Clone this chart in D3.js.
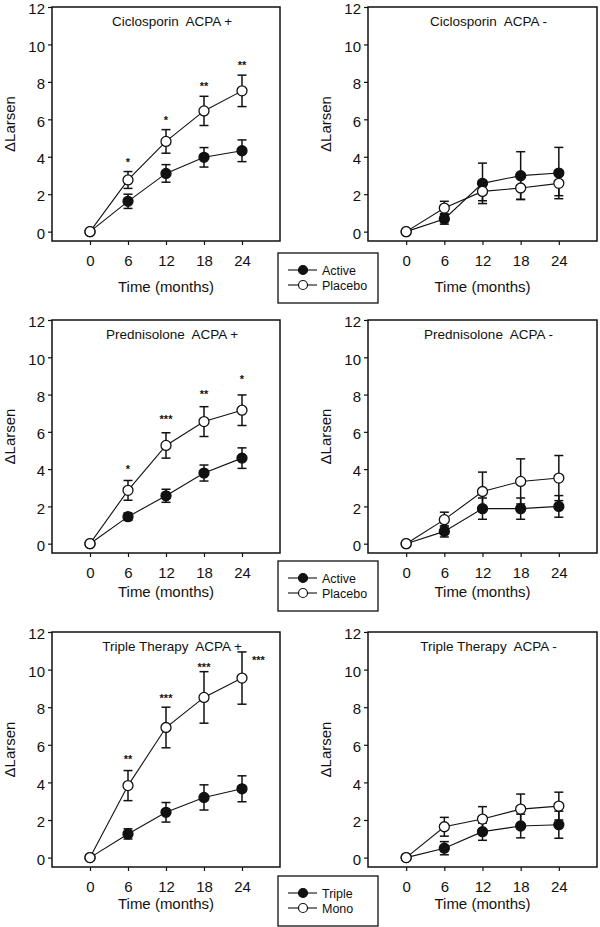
<!DOCTYPE html>
<html>
<head>
<meta charset="utf-8">
<script src="https://cdn.jsdelivr.net/npm/d3@7"></script>
<style>
  body { margin: 0; background: #fff; }
  svg { display: block; font-family: "Liberation Sans", Arial, sans-serif; }
  text { fill: #111; }
</style>
</head>
<body>
<svg id="chart" width="600" height="927"></svg>
<script>
// ---- data ----
var months = [0, 6, 12, 18, 24];
var xTicks = [0, 6, 12, 18, 24];
var yTicks = [0, 2, 4, 6, 8, 10, 12];

var cicloPosActive = [0, 1.62, 3.11, 3.97, 4.32];
var cicloPosActiveErr = [0, 0.38, 0.47, 0.52, 0.58];
var cicloPosPlacebo = [0, 2.76, 4.82, 6.45, 7.52];
var cicloPosPlaceboErr = [0, 0.45, 0.63, 0.78, 0.84];
var cicloPosStars = [[6, 3.84, "*"], [12, 6.08, "*"], [18, 7.89, "**"], [24, 9.01, "**"]];

var cicloNegActive = [0, 0.68, 2.58, 2.99, 3.13];
var cicloNegActiveErr = [0, 0.28, 1.08, 1.28, 1.37];
var cicloNegPlacebo = [0, 1.26, 2.15, 2.33, 2.58];
var cicloNegPlaceboErr = [0, 0.36, 0.5, 0.6, 0.66];

var predPosActive = [0, 1.45, 2.57, 3.79, 4.59];
var predPosActiveErr = [0, 0.2, 0.35, 0.43, 0.55];
var predPosPlacebo = [0, 2.86, 5.27, 6.55, 7.16];
var predPosPlaceboErr = [0, 0.53, 0.68, 0.8, 0.82];
var predPosStars = [[6, 4.11, "*"], [12, 6.82, "***"], [18, 8.13, "**"], [24, 8.96, "*"]];

var predNegActive = [0, 0.66, 1.88, 1.88, 2.0];
var predNegActiveErr = [0, 0.3, 0.57, 0.57, 0.58];
var predNegPlacebo = [0, 1.29, 2.8, 3.34, 3.52];
var predNegPlaceboErr = [0, 0.4, 1.04, 1.21, 1.21];

var tripPosTriple = [0, 1.26, 2.41, 3.2, 3.66];
var tripPosTripleErr = [0, 0.27, 0.52, 0.67, 0.69];
var tripPosMono = [0, 3.83, 6.92, 8.52, 9.55];
var tripPosMonoErr = [0, 0.8, 1.08, 1.37, 1.39];
var tripPosStars = [[6, 5.33, "**"], [12, 8.57, "***"], [18, 10.26, "***"], [26.6, 10.62, "***"]];

var tripNegTriple = [0, 0.5, 1.38, 1.68, 1.75];
var tripNegTripleErr = [0, 0.35, 0.46, 0.63, 0.72];
var tripNegMono = [0, 1.64, 2.05, 2.58, 2.74];
var tripNegMonoErr = [0, 0.5, 0.66, 0.8, 0.74];

var legendActive = ["Active", "Placebo"];
var legendTriple = ["Triple", "Mono"];

// ---- layout ----
var cols = [[52, 280], [368, 597]];
var rows = [
  {top: 7, bottom: 241, tick: 260, title: 287, legend: 253},
  {top: 320, bottom: 553, tick: 573, title: 592, legend: 561},
  {top: 632, bottom: 867, tick: 887, title: 904, legend: 876}
];

var panels = [
  {row: 0, col: 0, name: "Ciclosporin  ACPA +", filled: [cicloPosActive, cicloPosActiveErr], open: [cicloPosPlacebo, cicloPosPlaceboErr], stars: cicloPosStars},
  {row: 0, col: 1, name: "Ciclosporin  ACPA -", filled: [cicloNegActive, cicloNegActiveErr], open: [cicloNegPlacebo, cicloNegPlaceboErr], stars: []},
  {row: 1, col: 0, name: "Prednisolone  ACPA +", filled: [predPosActive, predPosActiveErr], open: [predPosPlacebo, predPosPlaceboErr], stars: predPosStars},
  {row: 1, col: 1, name: "Prednisolone  ACPA -", filled: [predNegActive, predNegActiveErr], open: [predNegPlacebo, predNegPlaceboErr], stars: []},
  {row: 2, col: 0, name: "Triple Therapy  ACPA +", filled: [tripPosTriple, tripPosTripleErr], open: [tripPosMono, tripPosMonoErr], stars: tripPosStars},
  {row: 2, col: 1, name: "Triple Therapy  ACPA -", filled: [tripNegTriple, tripNegTripleErr], open: [tripNegMono, tripNegMonoErr], stars: []}
];

var svg = d3.select("#chart");

panels.forEach(function(p) {
  var r = rows[p.row], c = cols[p.col];
  var x = d3.scaleLinear().domain([-6, 30]).range([c[0], c[1]]);
  var y = d3.scaleLinear().domain([-0.5, 12]).range([r.bottom, r.top]);
  var g = svg.append("g");

  // axes
  var xa = g.append("g")
    .attr("transform", "translate(0," + r.bottom + ")")
    .call(d3.axisBottom(x).tickValues(xTicks).tickSize(4).tickSizeOuter(0).tickPadding(10));
  var ya = g.append("g")
    .attr("transform", "translate(" + c[0] + ",0)")
    .call(d3.axisLeft(y).tickValues(yTicks).tickSize(4).tickSizeOuter(0).tickPadding(3));
  [xa, ya].forEach(function(a) {
    a.select(".domain").remove();
    a.selectAll("line").attr("stroke", "#111").attr("stroke-width", 1.2);
    a.selectAll("text").style("font-size", "15px").attr("fill", "#111")
      .style("font-family", "'Liberation Sans', Arial, sans-serif");
  });
  ya.selectAll("text").attr("dy", "0.45em");

  g.append("rect")
    .attr("x", c[0]).attr("y", r.top)
    .attr("width", c[1] - c[0]).attr("height", r.bottom - r.top)
    .attr("fill", "none").attr("stroke", "#111").attr("stroke-width", 1.5);

  g.append("text")
    .attr("x", (c[0] + c[1]) / 2 + 6).attr("y", r.top + 19)
    .attr("text-anchor", "middle")
    .style("font-size", "13.5px").style("white-space", "pre")
    .text(p.name);

  g.append("text")
    .attr("x", (c[0] + c[1]) / 2).attr("y", r.title + 5)
    .attr("text-anchor", "middle").style("font-size", "15px")
    .text("Time (months)");

  g.append("text")
    .attr("transform", "translate(" + (c[0] - 37) + "," + ((r.top + r.bottom) / 2) + ") rotate(-90)")
    .attr("text-anchor", "middle").style("font-size", "15px")
    .text("\u0394Larsen");

  var line = d3.line().x(function(d, i) { return x(months[i]); }).y(function(d) { return y(d); });

  [p.filled, p.open].forEach(function(s) {
    g.append("path").datum(s[0]).attr("d", line)
      .attr("fill", "none").attr("stroke", "#111").attr("stroke-width", 1.1);
  });

  [p.filled, p.open].forEach(function(s, k) {
    var pts = s[0].map(function(v, i) { return {m: months[i], v: v, e: s[1][i]}; });
    var eb = g.append("g").selectAll("g").data(pts.filter(function(d) { return d.e > 0; }))
      .enter().append("g").attr("stroke", "#111").attr("stroke-width", 1.5);
    eb.append("line")
      .attr("x1", function(d) { return x(d.m); }).attr("x2", function(d) { return x(d.m); })
      .attr("y1", function(d) { return y(d.v - d.e); }).attr("y2", function(d) { return y(d.v + d.e); });
    eb.append("line")
      .attr("x1", function(d) { return x(d.m) - 4.5; }).attr("x2", function(d) { return x(d.m) + 4.5; })
      .attr("y1", function(d) { return y(d.v + d.e); }).attr("y2", function(d) { return y(d.v + d.e); });
    eb.append("line")
      .attr("x1", function(d) { return x(d.m) - 4.5; }).attr("x2", function(d) { return x(d.m) + 4.5; })
      .attr("y1", function(d) { return y(d.v - d.e); }).attr("y2", function(d) { return y(d.v - d.e); });

    g.append("g").selectAll("circle").data(pts).enter().append("circle")
      .attr("cx", function(d) { return x(d.m); })
      .attr("cy", function(d) { return y(d.v); })
      .attr("r", 5)
      .attr("fill", k === 0 ? "#111" : "#fff")
      .attr("stroke", "#111").attr("stroke-width", 1.3);
  });

  g.append("g").selectAll("text").data(p.stars).enter().append("text")
    .attr("x", function(d) { return x(d[0]); })
    .attr("y", function(d) { return y(d[1]) + 6; })
    .attr("text-anchor", "middle").style("font-size", "11px").style("font-weight", "bold")
    .text(function(d) { return d[2]; });
});

// legends
rows.forEach(function(r, i) {
  var labels = i === 2 ? legendTriple : legendActive;
  var lg = svg.append("g").attr("transform", "translate(278," + r.legend + ")");
  lg.append("rect").attr("width", 100).attr("height", 50)
    .attr("fill", "#fff").attr("stroke", "#111").attr("stroke-width", 1.3);
  labels.forEach(function(l, k) {
    var yy = 17 + k * 15;
    lg.append("line").attr("x1", 10).attr("x2", 39).attr("y1", yy).attr("y2", yy)
      .attr("stroke", "#111").attr("stroke-width", 1.1);
    lg.append("circle").attr("cx", 25).attr("cy", yy).attr("r", 4.5)
      .attr("fill", k === 0 ? "#111" : "#fff").attr("stroke", "#111").attr("stroke-width", 1.2);
    lg.append("text").attr("x", 44).attr("y", yy + 4.5).style("font-size", "12.5px").text(l);
  });
});
</script>
</body>
</html>
